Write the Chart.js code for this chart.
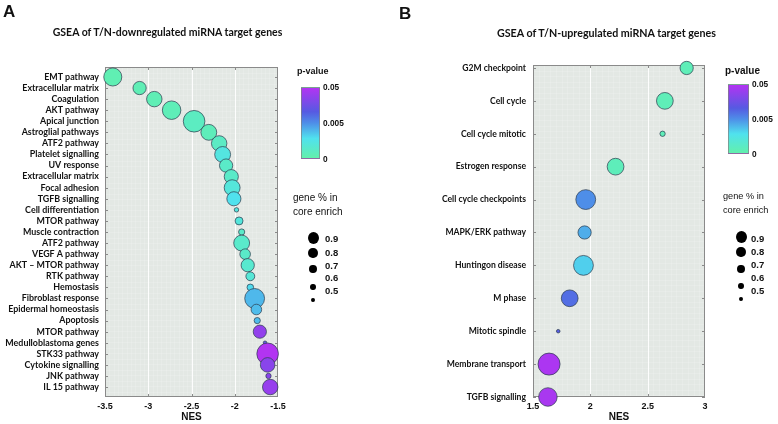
<!DOCTYPE html>
<html><head><meta charset="utf-8">
<script src="https://cdn.jsdelivr.net/npm/chart.js@4"></script>
<style>
html,body{margin:0;padding:0;background:#fff;}
#wrap{position:relative;width:778px;height:424px;overflow:hidden;background:#fff;}
canvas{position:absolute;top:0;}
.t{position:absolute;white-space:nowrap;line-height:1;color:#111;}
.cb{position:absolute;box-sizing:border-box;border:1px solid rgba(130,130,130,0.7);}
.dot{position:absolute;background:#000;border-radius:50%;}
</style></head><body><div id="wrap">
<canvas id="ca" width="389" height="424" style="left:0"></canvas>
<canvas id="cb" width="389" height="424" style="left:389px"></canvas>
</div>
<script>
// ---------------- data ----------------
const titleA = 'GSEA of T/N-downregulated miRNA target genes';
const titleB = 'GSEA of T/N-upregulated miRNA target genes';

const labelsA = ['EMT pathway','Extracellular matrix','Coagulation','AKT pathway','Apical junction','Astroglial pathways','ATF2 pathway','Platelet signalling','UV response','Extracellular matrix','Focal adhesion','TGFB signalling','Cell differentiation','MTOR pathway','Muscle contraction','ATF2 pathway','VEGF A pathway','AKT \u2013 MTOR pathway','RTK pathway','Hemostasis','Fibroblast response','Epidermal homeostasis','Apoptosis','MTOR pathway','Medulloblastoma genes','STK33 pathway','Cytokine signalling','JNK pathway','IL 15 pathway'];
const nesA = [-3.41,-3.10,-2.93,-2.73,-2.47,-2.30,-2.18,-2.14,-2.10,-2.04,-2.03,-2.01,-1.98,-1.95,-1.92,-1.92,-1.88,-1.85,-1.82,-1.82,-1.77,-1.75,-1.74,-1.71,-1.65,-1.62,-1.62,-1.61,-1.59];
const pvalA = [0.0003,0.0004,0.0004,0.0005,0.0009,0.0006,0.0010,0.0022,0.0012,0.0012,0.0020,0.0028,0.0020,0.0020,0.0012,0.0013,0.0012,0.0015,0.0018,0.0030,0.0039,0.0038,0.0038,0.0392,0.0230,0.0500,0.0365,0.0365,0.0410];
const geneA = [0.82,0.71,0.76,0.83,0.90,0.77,0.76,0.77,0.71,0.73,0.77,0.73,0.51,0.59,0.55,0.77,0.65,0.71,0.61,0.56,0.86,0.65,0.55,0.71,0.49,0.90,0.74,0.53,0.76];

const labelsB = ['G2M checkpoint','Cell cycle','Cell cycle mitotic','Estrogen response','Cell cycle checkpoints','MAPK/ERK pathway','Huntingon disease','M phase','Mitotic spindle','Membrane transport','TGFB signalling'];
const nesB = [2.84,2.65,2.63,2.22,1.96,1.95,1.94,1.82,1.72,1.64,1.63];
const pvalB = [0.0005,0.0005,0.0005,0.0006,0.0050,0.0042,0.0033,0.0140,0.0185,0.0480,0.0470];
const geneB = [0.71,0.79,0.53,0.79,0.86,0.71,0.86,0.79,0.49,0.91,0.83];

const xTicksA = [-3.5,-3,-2.5,-2,-1.5];
const xTicksB = [1.5,2,2.5,3];
const pTicks = [0.05,0.005,0];
const pTickLabels = ['0.05','0.005','0'];
const sizeLegend = [0.9,0.8,0.7,0.6,0.5];
const sizeLegendLabels = ['0.9','0.8','0.7','0.6','0.5'];

// ---------------- helpers ----------------
const stops = [[0,[98,240,172]],[0.28,[80,226,238]],[0.5,[78,142,232]],[0.66,[86,90,226]],[1,[178,52,242]]];
function pToT(p){ return p <= 0.005 ? p/0.005*0.5 : 0.5 + (p-0.005)/0.045*0.5; }
function colorAtT(t){
  t = Math.max(0, Math.min(1, t));
  for (let i=0;i<stops.length-1;i++){
    const [t0,c0]=stops[i],[t1,c1]=stops[i+1];
    if (t<=t1){ const f=(t-t0)/(t1-t0); return 'rgb('+c0.map((c,k)=>Math.round(c+(c1[k]-c)*f)).join(',')+')'; }
  }
  return 'rgb('+stops[stops.length-1][1].join(',')+')';
}
function colorFor(p){ return colorAtT(pToT(p)); }
function radiusFor(g){ return 2 + (g-0.5)*22; }
function legendDiam(g){ return 4 + (g-0.5)*17.5; }

const wrap = document.getElementById('wrap');
function addText(txt, x, y, css, center){
  const d = document.createElement('div');
  d.className='t'; d.textContent=txt;
  d.style.cssText += css;
  d.style.left = x+'px'; d.style.top = y+'px';
  d.style.transform = center ? 'translate(-50%,-50%)' : 'translateY(-50%)';
  wrap.appendChild(d); return d;
}

const panelPlugin = {
  id:'panel',
  beforeDraw(chart, args, o){
    const {ctx, chartArea:{left,top,right,bottom}, scales:{x}} = chart;
    ctx.save();
    ctx.fillStyle = '#e3e8e4';
    ctx.fillRect(left, top, right-left, bottom-top);
    ctx.strokeStyle = 'rgba(255,255,255,0.3)'; ctx.lineWidth = 0.5;
    ctx.beginPath();
    for (let v=x.min; v<=x.max+1e-9; v+=o.xMinor){ const px=Math.round(x.getPixelForValue(v))+0.5; ctx.moveTo(px,top); ctx.lineTo(px,bottom); }
    for (let py=top+o.yMinorPx; py<bottom; py+=o.yMinorPx){ const q=Math.round(py)+0.5; ctx.moveTo(left,q); ctx.lineTo(right,q); }
    ctx.stroke();
    ctx.strokeStyle = 'rgba(255,255,255,0.9)'; ctx.lineWidth = 1;
    ctx.beginPath();
    o.xMajor.forEach(v=>{ const px=Math.round(x.getPixelForValue(v))+0.5; ctx.moveTo(px,top); ctx.lineTo(px,bottom); });
    ctx.stroke();
    ctx.restore();
  },
  beforeDatasetsDraw(chart, args, o){
    const {ctx, chartArea:{left,top,right,bottom}, scales:{x,y}} = chart;
    ctx.save();
    ctx.strokeStyle = '#8a8a8a'; ctx.lineWidth = 1;
    ctx.strokeRect(left+0.5, top+0.5, right-left-1, bottom-top-1);
    ctx.beginPath();
    y.ticks.forEach(t=>{ const py=Math.round(y.getPixelForValue(t.value))+0.5; ctx.moveTo(left,py); ctx.lineTo(left+3,py); ctx.moveTo(right-3,py); ctx.lineTo(right,py); });
    o.xMajor.slice(1,-1).forEach(v=>{ const px=Math.round(x.getPixelForValue(v))+0.5; ctx.moveTo(px,top); ctx.lineTo(px,top+3); ctx.moveTo(px,bottom-3); ctx.lineTo(px,bottom); });
    ctx.stroke();
    ctx.restore();
  }
};

function makeChart(id, labels, nes, pvals, genes, xt, L){
  return new Chart(document.getElementById(id), {
    type:'bubble',
    data:{datasets:[{
      data: nes.map((v,i)=>({x:v, y:i, r:radiusFor(genes[i])})),
      backgroundColor: pvals.map(colorFor),
      borderColor:'rgba(45,62,80,0.9)', borderWidth:0.8, clip:false
    }]},
    plugins:[panelPlugin],
    options:{
      responsive:false, animation:false, events:[], devicePixelRatio:1,
      layout:{padding:L.padding},
      plugins:{legend:{display:false}, tooltip:{enabled:false},
        panel:{xMinor:L.xMinor, yMinorPx:L.yMinorPx, xMajor:xt}},
      scales:{
        x:{type:'linear', min:xt[0], max:xt[xt.length-1],
          afterBuildTicks:s=>{ s.ticks = xt.map(v=>({value:v})); },
          grid:{display:false, drawTicks:false}, border:{display:false},
          ticks:{padding:4, color:'#111', autoSkip:false, maxRotation:0,
            font:{family:'"Liberation Sans", Arial, sans-serif', weight:'bold', size:9},
            callback:v=>String(Math.round(v*10)/10)},
          title:{display:true, text:'NES', color:'#111', padding:{top:0,bottom:1},
            font:{family:'"Liberation Sans", Arial, sans-serif', weight:'bold', size:10}},
          afterFit:s=>{ s.height = L.xH; }
        },
        y:{type:'linear', reverse:true, min:L.yMin, max:L.yMax,
          afterBuildTicks:s=>{ s.ticks = labels.map((_,i)=>({value:i})); },
          grid:{display:false, drawTicks:false}, border:{display:false},
          ticks:{autoSkip:false, padding:L.yPad, color:'#111',
            font:{family:'Lato, sans-serif', weight:'bold', size:L.yFont},
            callback:v=>labels[v]},
          afterFit:s=>{ s.width = L.yW; }
        }
      }
    }
  });
}

function buildLegend(L){
  const lblFont = 'font-family:"Liberation Sans",Arial,sans-serif;';
  addText('p-value', L.pvX, L.pvY, lblFont+'font-weight:bold;font-size:'+L.pvF+'px;');
  const cb = document.createElement('div'); cb.className='cb';
  cb.style.left=L.cbX+'px'; cb.style.top=L.cbY+'px'; cb.style.width=L.cbW+'px'; cb.style.height=L.cbH+'px';
  cb.style.background = 'linear-gradient(to top,'+stops.map(s=>colorAtT(s[0])+' '+(s[0]*100)+'%').join(',')+')';
  wrap.appendChild(cb);
  pTicks.forEach((p,i)=>addText(pTickLabels[i], L.cbLX, L.cbY + L.cbH*(1-pToT(p)), lblFont+'font-weight:bold;font-size:8.3px;'));
  addText('gene % in', L.gX, L.gY, lblFont+'font-size:'+L.gF+'px;');
  addText('core enrich', L.gX, L.gY+14, lblFont+'font-size:'+L.gF+'px;');
  sizeLegend.forEach((g,i)=>{
    const d = legendDiam(g);
    const c = document.createElement('div'); c.className='dot';
    c.style.width=d+'px'; c.style.height=(d*1.08)+'px';
    c.style.left=(L.cX-d/2)+'px'; c.style.top=(L.cYs[i]-d*0.54)+'px';
    wrap.appendChild(c);
    addText(sizeLegendLabels[i], L.lX, L.lYs[i], lblFont+'font-weight:bold;font-size:9.5px;');
  });
}

function init(){
  addText('A', 3, 11, 'font-family:"Liberation Sans",Arial,sans-serif;font-weight:bold;font-size:17px;');
  addText('B', 399, 13, 'font-family:"Liberation Sans",Arial,sans-serif;font-weight:bold;font-size:17px;');
  addText(titleA, 167.5, 32, 'font-family:Lato,sans-serif;font-weight:bold;font-size:10.5px;', true);
  addText(titleB, 606.5, 33, 'font-family:Lato,sans-serif;font-weight:bold;font-size:10.7px;', true);

  makeChart('ca', labelsA, nesA, pvalA, geneA, xTicksA,
    {padding:{left:0,right:111,top:67,bottom:0}, yW:105, xH:27, yMin:-0.9, yMax:28.9, yPad:6, yFont:8.9, xMinor:0.05, yMinorPx:5.5});
  makeChart('cb', labelsB, nesB, pvalB, geneB, xTicksB,
    {padding:{left:0,right:73,top:65,bottom:0}, yW:144, xH:27, yMin:-0.09, yMax:10, yPad:7, yFont:8.6, xMinor:0.05, yMinorPx:5.5});

  buildLegend({pvX:297, pvY:71, pvF:9, cbX:301, cbY:87, cbW:19, cbH:72, cbLX:323,
    gX:293, gY:198, gF:10, cX:313, cYs:[238,253,269,287,300], lX:325, lYs:[239,253,266,278,291]});
  buildLegend({pvX:725, pvY:71, pvF:10, cbX:728, cbY:84, cbW:21, cbH:70, cbLX:752,
    gX:723, gY:197, gF:9.2, cX:741, cYs:[237,252,269,286,299], lX:751, lYs:[239,252,265,278,291]});
}

const fontsToLoad = ['bold 9px Lato','bold 9px "Liberation Sans"','10px "Liberation Sans"'];
Promise.all(fontsToLoad.map(f=>document.fonts.load(f))).then(init, init);
</script>
</body></html>
